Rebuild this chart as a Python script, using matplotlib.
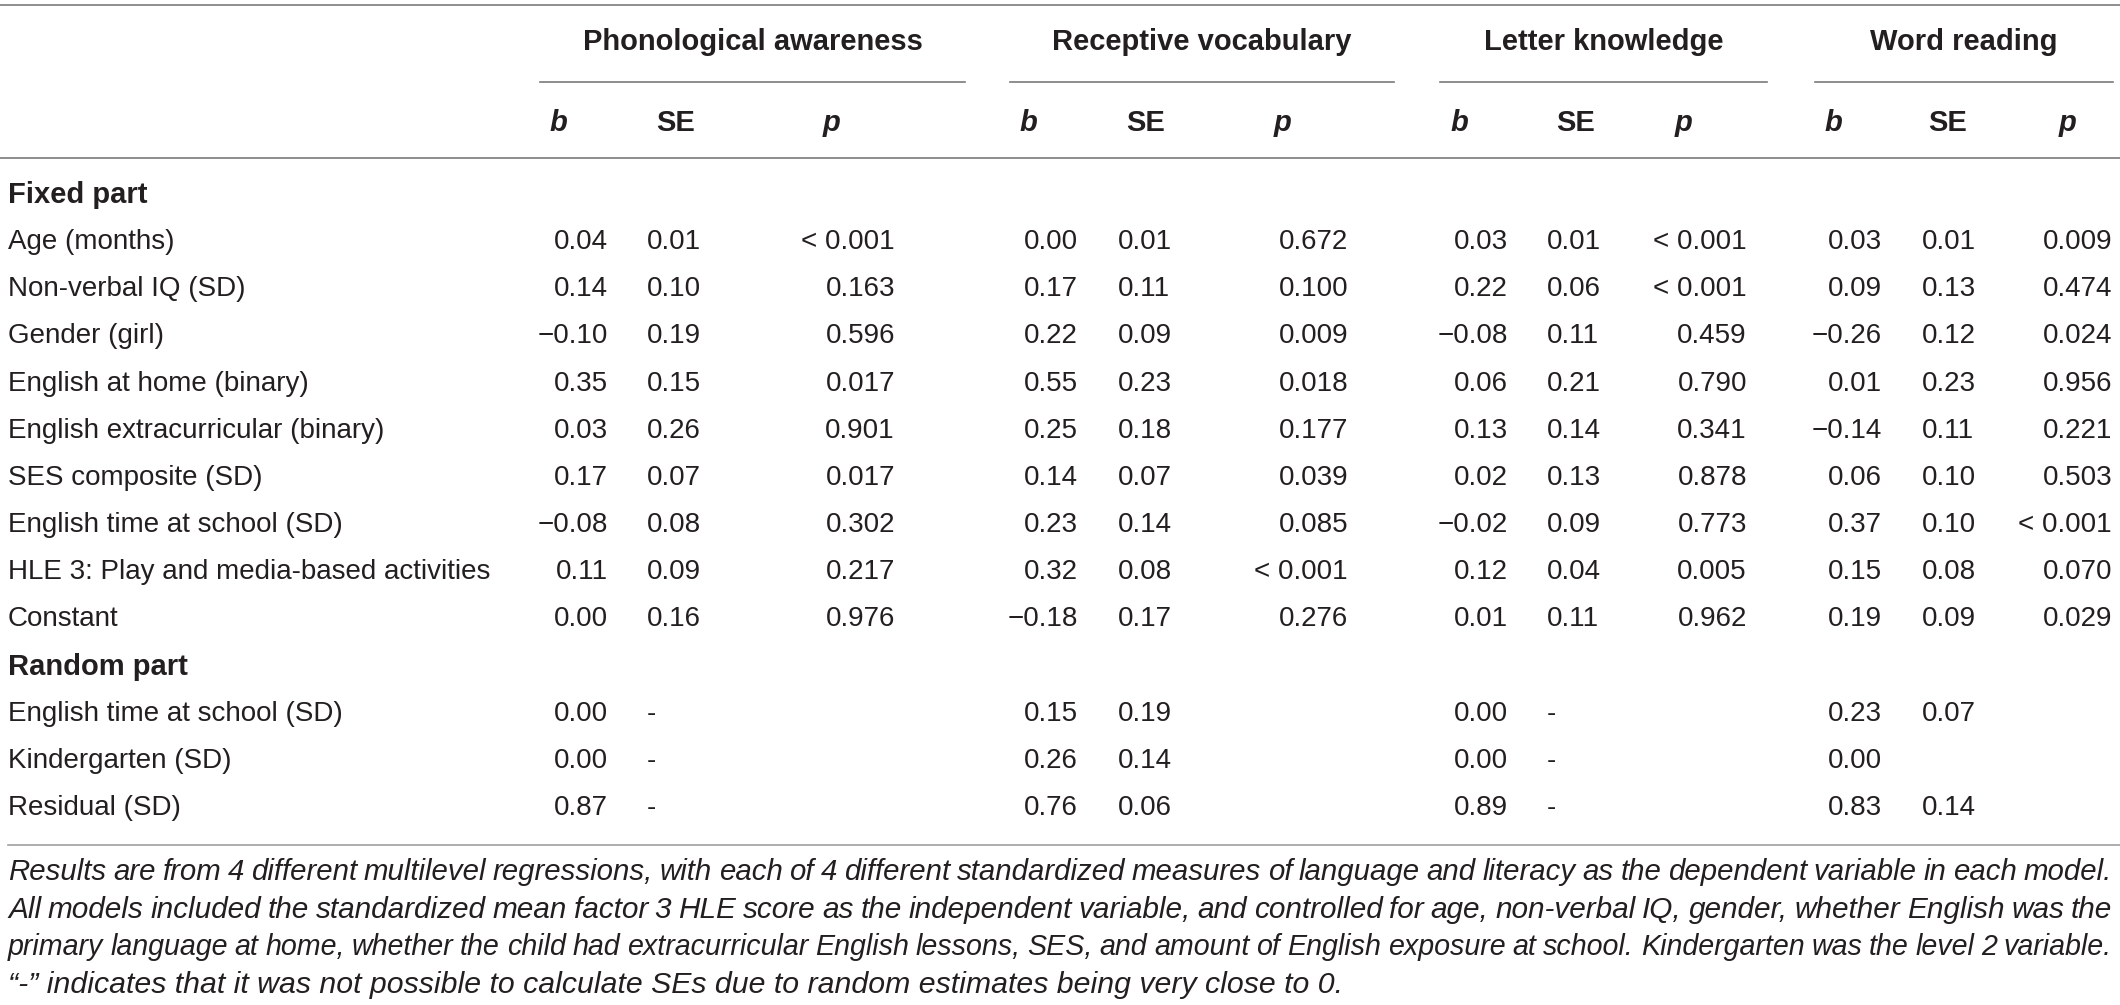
import matplotlib
matplotlib.use("Agg")
import matplotlib.pyplot as plt

plt.rcParams['font.family'] = ['Liberation Sans Narrow', 'Liberation Sans', 'DejaVu Sans']

# ---- datos de la tabla ----
grupos = ["Phonological awareness", "Receptive vocabulary", "Letter knowledge", "Word reading"]
subcols = ["b", "SE", "p"]

filas = ["Fixed part", "Age (months)", "Non-verbal IQ (SD)", "Gender (girl)",
         "English at home (binary)", "English extracurricular (binary)",
         "SES composite (SD)", "English time at school (SD)",
         "HLE 3: Play and media-based activities", "Constant",
         "Random part", "English time at school (SD)", "Kindergarten (SD)", "Residual (SD)"]
filas_negrita = ["Fixed part", "Random part"]

# valores por grupo (None = fila de seccion)
pa_b = [None, "0.04", "0.14", "\u22120.10", "0.35", "0.03", "0.17", "\u22120.08", "0.11", "0.00", None, "0.00", "0.00", "0.87"]
pa_se = [None, "0.01", "0.10", "0.19", "0.15", "0.26", "0.07", "0.08", "0.09", "0.16", None, "-", "-", "-"]
pa_p = [None, "< 0.001", "0.163", "0.596", "0.017", "0.901", "0.017", "0.302", "0.217", "0.976", None, "", "", ""]

rv_b = [None, "0.00", "0.17", "0.22", "0.55", "0.25", "0.14", "0.23", "0.32", "\u22120.18", None, "0.15", "0.26", "0.76"]
rv_se = [None, "0.01", "0.11", "0.09", "0.23", "0.18", "0.07", "0.14", "0.08", "0.17", None, "0.19", "0.14", "0.06"]
rv_p = [None, "0.672", "0.100", "0.009", "0.018", "0.177", "0.039", "0.085", "< 0.001", "0.276", None, "", "", ""]

lk_b = [None, "0.03", "0.22", "\u22120.08", "0.06", "0.13", "0.02", "\u22120.02", "0.12", "0.01", None, "0.00", "0.00", "0.89"]
lk_se = [None, "0.01", "0.06", "0.11", "0.21", "0.14", "0.13", "0.09", "0.04", "0.11", None, "-", "-", "-"]
lk_p = [None, "< 0.001", "< 0.001", "0.459", "0.790", "0.341", "0.878", "0.773", "0.005", "0.962", None, "", "", ""]

wr_b = [None, "0.03", "0.09", "\u22120.26", "0.01", "\u22120.14", "0.06", "0.37", "0.15", "0.19", None, "0.23", "0.00", "0.83"]
wr_se = [None, "0.01", "0.13", "0.12", "0.23", "0.11", "0.10", "0.10", "0.08", "0.09", None, "0.07", "", "0.14"]
wr_p = [None, "0.009", "0.474", "0.024", "0.956", "0.221", "0.503", "< 0.001", "0.070", "0.029", None, "", "", ""]

valores = [(pa_b, pa_se, pa_p), (rv_b, rv_se, rv_p), (lk_b, lk_se, lk_p), (wr_b, wr_se, wr_p)]

nota = ["Results are from 4 different multilevel regressions, with each of 4 different standardized measures of language and literacy as the dependent variable in each model.",
        "All models included the standardized mean factor 3 HLE score as the independent variable, and controlled for age, non-verbal IQ, gender, whether English was the",
        "primary language at home, whether the child had extracurricular English lessons, SES, and amount of English exposure at school. Kindergarten was the level 2 variable.",
        "\u201c-\u201d indicates that it was not possible to calculate SEs due to random estimates being very close to 0."]

# ---- posiciones (en pixeles) ----
W, H = 2120, 1005
negro = "#231f20"
gris = "#7a7a7a"
fs = 20        # cuerpo
fs_enc = 21    # encabezados en negrita
fs_nota = 21.8 # nota al pie

b_der = [608, 1078, 1508, 1882]
se_izq = [647, 1118, 1547, 1922]
p_der = [895, 1348, 1747, 2112]
hb = [558, 1028, 1459, 1833]
hse = [676, 1146, 1576, 1948]
hp = [832, 1283, 1684, 2068]
lineas_grupo = [(540, 965), (1010, 1394), (1440, 1767), (1815, 2113)]

fig = plt.figure(figsize=(W / 100, H / 100), dpi=100)
ax = fig.add_axes([0, 0, 1, 1])
ax.set_xlim(0, W)
ax.set_ylim(H, 0)
ax.axis("off")

# lineas horizontales
ax.plot([0, W], [5, 5], color=gris, lw=1.2)
ax.plot([0, W], [158, 158], color=gris, lw=1.2)
ax.plot([8, W], [845, 845], color="#a0a0a0", lw=1.2)
for (x0, x1) in lineas_grupo:
    ax.plot([x0, x1], [82, 82], color=gris, lw=1.2)

# encabezados
for i, g in enumerate(grupos):
    xc = (lineas_grupo[i][0] + lineas_grupo[i][1]) / 2
    ax.text(xc, 42, g, ha="center", va="center", fontsize=fs_enc, fontweight="bold", color=negro)
    ax.text(hb[i], 123, "b", ha="center", va="center", fontsize=fs_enc, fontweight="bold", style="italic", color=negro)
    ax.text(hse[i], 123, "SE", ha="center", va="center", fontsize=fs_enc, fontweight="bold", color=negro)
    ax.text(hp[i], 123, "p", ha="center", va="center", fontsize=fs_enc, fontweight="bold", style="italic", color=negro)

# filas
y0, paso = 195, 47.15
for r, nombre in enumerate(filas):
    y = y0 + r * paso
    peso = "bold" if nombre in filas_negrita and valores[0][0][r] is None else "normal"
    ax.text(8, y, nombre, ha="left", va="center", fontsize=fs_enc if peso == "bold" else fs,
            fontweight=peso, color=negro)
    for i, (cb, cse, cp) in enumerate(valores):
        if cb[r] is None:
            continue
        ax.text(b_der[i], y, cb[r], ha="right", va="center", fontsize=fs, color=negro)
        ax.text(se_izq[i], y, cse[r], ha="left", va="center", fontsize=fs, color=negro)
        ax.text(p_der[i], y, cp[r], ha="right", va="center", fontsize=fs, color=negro)

# nota al pie, justificada (reduce un poco la letra si la linea no cabe)
fig.canvas.draw()
rend = fig.canvas.get_renderer()
x_izq, x_der = 8, 2112
for k, linea in enumerate(nota):
    y = 872 + k * 37.7
    if k == len(nota) - 1:
        ax.text(x_izq, y, linea, ha="left", va="center", fontsize=fs_nota, style="italic", color=negro)
        continue
    palabras = linea.split(" ")
    tam = fs_nota
    while True:
        objs = [ax.text(0, y, p, ha="left", va="center", fontsize=tam, style="italic", color=negro) for p in palabras]
        anchos = [t.get_window_extent(rend).width for t in objs]
        hueco = (x_der - x_izq - sum(anchos)) / (len(palabras) - 1)
        if hueco >= 6.5 or tam < 16:
            break
        for t in objs:
            t.remove()
        tam -= 0.2
    x = x_izq
    for t, a in zip(objs, anchos):
        t.set_x(x)
        x += a + hueco

fig.savefig("out.png", dpi=100)
